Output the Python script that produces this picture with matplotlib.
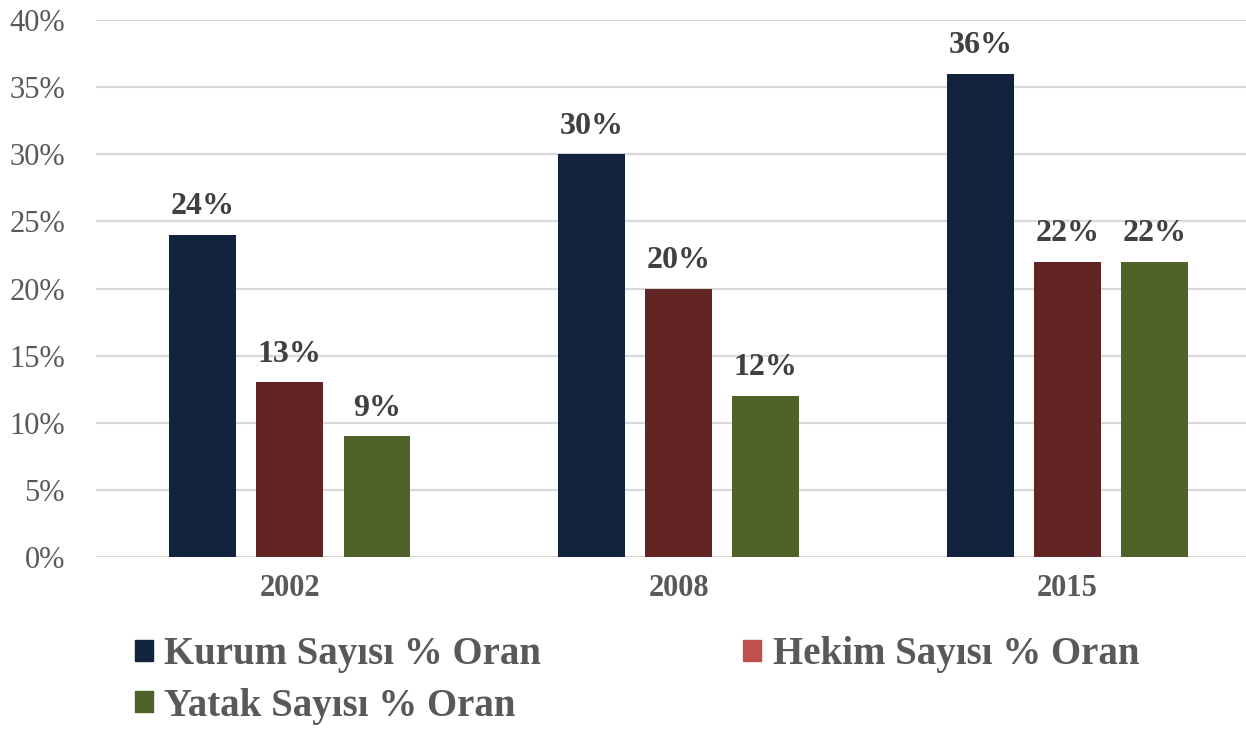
import numpy as np
import matplotlib.pyplot as plt
from matplotlib.patches import Patch
from matplotlib.ticker import FuncFormatter

yillar = ['2002', '2008', '2015']
kurum = [24, 30, 36]
hekim = [13, 20, 22]
yatak = [9, 12, 22]
seriler = ['Kurum Sayısı % Oran', 'Hekim Sayısı % Oran', 'Yatak Sayısı % Oran']

plt.rcParams['font.family'] = ['Liberation Serif', 'DejaVu Serif']

bar_renk = ['#12243D', '#632523', '#4F6228']
lejant_renk = ['#12243D', '#C0504D', '#4F6228']

fig = plt.figure(figsize=(12.46, 7.30), dpi=100)
ax = fig.add_axes([95.5 / 1246, 1 - 557 / 730, (1262 - 95.5) / 1246, (557 - 20) / 730])

x = np.arange(len(yillar))
w = 0.172
adim = 0.224
for i, veri in enumerate([kurum, hekim, yatak]):
    bars = ax.bar(x + (i - 1) * adim, veri, w, color=bar_renk[i], zorder=3)
    for b, v in zip(bars, veri):
        ax.text(b.get_x() + b.get_width() / 2, v + 1.0, f'{v}%', ha='center', va='bottom',
                fontsize=23, fontweight='bold', color='#404040')

ax.set_xlim(-0.5, 2.5)
ax.set_ylim(0, 40)
ax.set_yticks(range(0, 41, 5))
ax.yaxis.set_major_formatter(FuncFormatter(lambda v, p: f'{int(v)}%'))
ax.set_xticks(x)
ax.set_xticklabels(yillar, fontsize=22, fontweight='bold', color='#595959')
ax.tick_params(axis='y', labelsize=22, labelcolor='#595959', length=0, pad=22)
ax.tick_params(axis='x', length=0, pad=12)
ax.grid(axis='y', color='#D9D9D9', linewidth=1.6, zorder=0)
for s in ax.spines.values():
    s.set_visible(False)

handles = [Patch(color=lejant_renk[0], label=seriler[0]),
           Patch(color=lejant_renk[2], label=seriler[2]),
           Patch(color=lejant_renk[1], label=seriler[1])]
leg = fig.legend(handles=handles, ncol=2, loc='upper left', bbox_to_anchor=(100 / 1246, 1 - 601 / 730),
                 frameon=False, prop={'size': 28, 'weight': 'bold'}, handlelength=0.45, handleheight=0.45,
                 handletextpad=0.3, columnspacing=5.2, labelspacing=0.38, labelcolor='#595959')

fig.savefig('out.png', dpi=100)
